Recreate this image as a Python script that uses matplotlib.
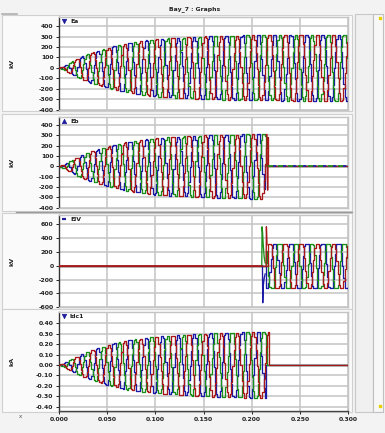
import numpy as np
import matplotlib
matplotlib.use("Agg")
import matplotlib.pyplot as plt
from matplotlib.patches import Rectangle
from matplotlib.lines import Line2D

# ---- data ---------------------------------------------------------------
freq_hz = 60.0
t_end = 0.3
sample_dt = 0.0012

# phase angles (deg) of the three phases
phase_deg = {"blue": -50.0, "red": 70.0, "green": 190.0}
colors = {"blue": "#1a1aa6", "red": "#a81818", "green": "#1a8f1a"}

# voltage envelope (kV) during energisation
env_t = [0.0, 0.005, 0.01, 0.02, 0.03, 0.05, 0.07, 0.10, 0.15, 0.20, 0.30]
env_kv = [0.0, 20.0, 45.0, 95.0, 135.0, 190.0, 235.0, 275.0, 300.0, 312.0, 318.0]

# current envelope (kA)
env_ka = [0.0, 0.02, 0.045, 0.09, 0.13, 0.19, 0.235, 0.27, 0.30, 0.315, 0.32]

# Eb: each phase trips at its own instant
eb_trip = {"blue": 0.2125, "green": 0.2140, "red": 0.2170}
eb_red_spike_t = [0.2150, 0.2158, 0.2166, 0.2170]
eb_red_spike_v = [300.0, 310.0, -230.0, 0.0]

# EIV: zero before switching, transient spikes, then steady three-phase
eiv_start = 0.2105
eiv_amp = 315.0
eiv_spike_t = {"green": [0.2105, 0.2108, 0.2113, 0.2120, 0.2130, 0.2140],
               "blue": [0.2112, 0.2115, 0.2120, 0.2130, 0.2140],
               "red": [0.2150, 0.2153, 0.2160]}
eiv_spike_v = {"green": [0.0, 560.0, 480.0, 300.0, 120.0, 40.0],
               "blue": [0.0, -535.0, -300.0, -180.0, -120.0],
               "red": [0.0, 560.0, 300.0]}

# Idc1: current trip instants
idc_trip = {"blue": 0.2140, "green": 0.2150, "red": 0.2180}

y_ranges = [(-400, 487), (-400, 478), (-600, 730), (-0.441, 0.508)]
y_ticks = [np.arange(-400, 401, 100), np.arange(-400, 401, 100),
           np.arange(-600, 601, 200), np.round(np.arange(-0.4, 0.41, 0.1), 2)]
y_units = ["kV", "kV", "kV", "kA"]
names = ["Ea", "Eb", "EIV", "Idc1"]
markers = ["v", "^", "_", "v"]
x_ticks = [0.0, 0.05, 0.10, 0.15, 0.20, 0.25, 0.30]

# ---- signals ------------------------------------------------------------
t = np.arange(0.0, t_end + 1e-9, sample_dt)
w = 2 * np.pi * freq_hz


def shape(ph, flat=1.12):
    # slightly flattened sine, as the recorder draws it
    return np.clip(flat * np.sin(w * t + np.radians(phase_deg[ph])), -1, 1)


def ea(ph):
    return np.interp(t, env_t, env_kv) * shape(ph)


def eb(ph):
    y = np.interp(t, env_t, env_kv) * shape(ph)
    y[t > eb_trip[ph]] = 0.0
    return y


def eiv(ph):
    steady = eiv_amp * shape(ph, 1.3)
    return np.where(t >= eiv_spike_t[ph][-1], steady, 0.0)


def idc(ph):
    y = np.interp(t, env_t, env_ka) * shape(ph)
    y[t > idc_trip[ph]] = 0.0
    return y


# ---- figure -------------------------------------------------------------
W, H = 385, 433
fig = plt.figure(figsize=(W / 100, H / 100), dpi=100, facecolor="#f3f3f3")


def px_box(x0, y0, x1, y1):
    return [x0 / W, 1 - y1 / H, (x1 - x0) / W, (y1 - y0) / H]


# panel backgrounds and separators
for (y0, y1) in [(15, 111), (114, 211), (213, 309), (309, 412)]:
    fig.patches.append(Rectangle((2 / W, 1 - y1 / H), 350 / W, (y1 - y0) / H,
                                 transform=fig.transFigure, facecolor="#fafafa",
                                 edgecolor="#d0d0d0", lw=0.8, zorder=-5))
fig.add_artist(Line2D([16 / W, 352 / W], [1 - 212 / H, 1 - 212 / H],
                      color="#9a9a9a", lw=1.0))
fig.add_artist(Line2D([2 / W, 17 / W], [1 - 14 / H, 1 - 14 / H],
                      color="#b0b0b0", lw=1.2))
# right-hand strip
fig.patches.append(Rectangle((355 / W, 1 - 412 / H), 18 / W, 398 / H,
                             transform=fig.transFigure, facecolor="#f0f0f0",
                             edgecolor="#c8c8c8", lw=0.8))
fig.patches.append(Rectangle((373 / W, 1 - 412 / H), 10 / W, 398 / H,
                             transform=fig.transFigure, facecolor="#f7f7f7",
                             edgecolor="#c0c0c0", lw=0.8))
fig.add_artist(Line2D([380 / W], [1 - 18 / H], marker="s", ms=1.6,
                      color="#e8d000", lw=0))
fig.add_artist(Line2D([380 / W], [1 - 406 / H], marker="s", ms=1.6,
                      color="#e8d000", lw=0))

fig.text(195 / W, 1 - 9 / H, "Bay_7 : Graphs", ha="center", va="center",
         fontsize=4.4, color="#222222", fontweight="bold")

boxes = [px_box(59, 17, 348, 109.5), px_box(59, 117, 348, 207.7),
         px_box(59, 215, 348, 307.3), px_box(59, 312, 348, 411)]

series = [ea, eb, eiv, idc]
order = ["blue", "green", "red"]
lw = 0.95

for i, box in enumerate(boxes):
    ax = fig.add_axes(box)
    ax.set_facecolor("white")
    ax.set_xlim(0, t_end)
    ax.set_ylim(*y_ranges[i])
    ax.set_yticks(y_ticks[i])
    ax.set_xticks(x_ticks)
    ax.grid(True, color="#c4c4c4", lw=1.1)
    ax.set_axisbelow(True)
    for s in ["top", "right", "bottom"]:
        ax.spines[s].set_color("#c4c4c4")
        ax.spines[s].set_linewidth(1.0)
    ax.spines["left"].set_color("#333333")
    ax.spines["left"].set_linewidth(1.0)
    if i == 3:
        ax.spines["bottom"].set_color("#444444")
        ax.tick_params(axis="x", length=2.5, width=0.7, labelsize=4.4,
                       colors="#222222", pad=2)
        ax.set_xticklabels([f"{v:.3f}" for v in x_ticks], fontweight="bold")
    else:
        ax.tick_params(axis="x", length=0, labelbottom=False)
    ax.tick_params(axis="y", length=2.5, width=0.7, labelsize=4.4,
                   colors="#222222", pad=1.5)
    if i == 3:
        ax.set_yticklabels([f"{v + 0.0:.2f}".replace("-0.00", "0.00")
                            for v in y_ticks[i]], fontweight="bold")
    else:
        ax.set_yticklabels([f"{v:g}" for v in y_ticks[i]], fontweight="bold")
    ax.set_ylabel(y_units[i], fontsize=4.6, color="#222222", labelpad=0,
                  fontweight="bold")
    ax.yaxis.set_label_coords(-0.155, 0.5)

    for ph in order:
        ax.plot(t, series[i](ph), color=colors[ph], lw=lw,
                drawstyle="steps-post", zorder=3)

    if i == 1:
        ax.plot(eb_red_spike_t, eb_red_spike_v, color=colors["red"], lw=lw,
                zorder=4)
        # the three tripped phases overlap on the zero line
        ax.plot([eb_trip["red"], t_end], [0, 0], color=colors["green"], lw=1.2,
                ls=(0, (3, 3)), zorder=5)
        ax.plot([eb_trip["red"], t_end], [0, 0], color=colors["blue"], lw=1.2,
                ls=(3, (2, 4)), zorder=5)
    if i == 2:
        for ph in order:
            ax.plot(eiv_spike_t[ph], eiv_spike_v[ph], color=colors[ph], lw=lw,
                    zorder=4)
        ax.plot([0, eiv_start], [0, 0], color=colors["red"], lw=1.2, zorder=5)

    # legend entry inside the plot area
    ax.plot([0.016], [0.955], marker=markers[i], transform=ax.transAxes,
            color="#1c1c9c", ms=3.2, mew=1.6 if markers[i] == "_" else 0.5,
            clip_on=False, zorder=6)
    ax.text(0.038, 0.955, names[i], transform=ax.transAxes, fontsize=4.4,
            va="center", ha="left", color="#222222", fontweight="bold")

fig.text(20 / W, 1 - 417 / H, "x", fontsize=4, color="#555555",
         ha="center", va="center")

fig.savefig("out.png", dpi=100, facecolor=fig.get_facecolor())
